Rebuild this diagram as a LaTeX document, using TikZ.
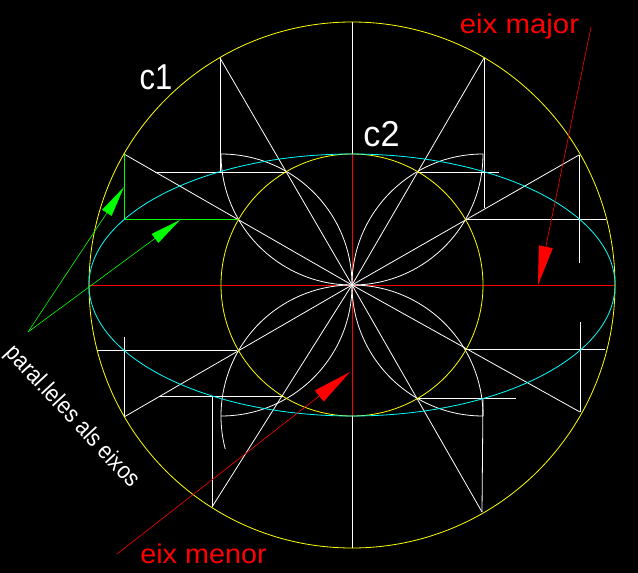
\documentclass[tikz,border=0pt]{standalone}
\usepackage{fontspec}
\setmainfont{Liberation Sans}
\usetikzlibrary{arrows.meta}
\definecolor{cyel}{RGB}{255,255,0}
\definecolor{ccyan}{RGB}{0,255,255}
\definecolor{cgreen}{RGB}{0,255,0}
\tikzstyle{wline} = [draw, white, line width=0.8pt]
\tikzstyle{yline} = [draw, cyel, line width=0.8pt]
\tikzstyle{eline} = [draw, ccyan, line width=0.8pt]
\tikzstyle{rline} = [draw, red, line width=0.7pt]
\tikzstyle{gline} = [draw, cgreen, line width=0.8pt]
\tikzstyle{garrow} = [draw, cgreen, line width=0.6pt, -{Triangle[length=31pt, width=11pt]}]
\tikzstyle{rarrow} = [draw, red, line width=0.6pt, -{Triangle[length=39pt, width=14pt]}]
\tikzstyle{wtext} = [white, inner sep=0pt, anchor=base, transform shape, font=\fontsize{36}{36}\selectfont]
\tikzstyle{rtext} = [red, inner sep=0pt, anchor=base, transform shape, font=\fontsize{27}{27}\selectfont]
\begin{document}
\begin{tikzpicture}[x=1pt, y=1pt]
	\fill [black] (0,-573) rectangle (638,0);
	\useasboundingbox (0,-573) rectangle (638,0);

	\coordinate (o) at (352,-285);
	\coordinate (left) at (89,-285);
	\coordinate (right) at (615,-285);
	\coordinate (top) at (352,-22);
	\coordinate (bot) at (352,-548);
	\coordinate (top2) at (352,-154);
	\coordinate (bot2) at (352,-416);

	% points on c1 and c2, by quadrant
	\coordinate (ul1) at (124,-154);
	\coordinate (ul2) at (220,-58);
	\coordinate (ui1) at (238,-219);
	\coordinate (ui2) at (286,-172);
	\coordinate (ur1) at (579,-155);
	\coordinate (ur2) at (484,-58);
	\coordinate (ri1) at (465,-219);
	\coordinate (ri2) at (418,-172);
	\coordinate (ll1) at (124,-417);
	\coordinate (ll2) at (212,-507);
	\coordinate (li1) at (237,-350);
	\coordinate (li2) at (283,-396);
	\coordinate (lr1) at (580,-412);
	\coordinate (lr2) at (482,-512);
	\coordinate (ni1) at (465,-349);
	\coordinate (ni2) at (417,-398);

	% axes
	\path [wline] (top) -- (top2);
	\path [wline] (bot2) -- (bot);
	\path [rline] (left) -- (right);
	\path [rline] (top2) -- (bot2);

	% arcs
	\path [wline] (221,-154) arc [start angle=180, end angle=270, radius=131pt];
	\path [wline] (o) arc [start angle=0, end angle=90, radius=131pt];
	\path [wline] (o) arc [start angle=270, end angle=360, radius=131pt];
	\path [wline] (o) arc [start angle=180, end angle=90, radius=131pt];
	\path [wline] (o) arc [start angle=90, end angle=0, radius=131pt];
	\path [wline] (o) arc [start angle=180, end angle=270, radius=131pt];
	\path [wline] (o) arc [start angle=90, end angle=194.6, radius=131pt];
	\path [wline] (o) arc [start angle=0, end angle=-90, radius=131pt];

	% radial lines
	\path [wline] (ul1) -- (o);
	\path [wline] (ul2) -- (o);
	\path [wline] (ur1) -- (o);
	\path [wline] (ur2) -- (o);
	\path [wline] (ll1) -- (o);
	\path [wline] (ll2) -- (o);
	\path [wline] (lr1) -- (o);
	\path [wline] (lr2) -- (o);

	% parallels to the axes
	\path [gline] (ul1) -- (124,-219) -- (ui1);
	\path [wline] (ul2) -- (220,-172);
	\path [wline] (155,-172) -- (ui2);
	\path [wline] (ur2) -- (484,-208);
	\path [wline] (ri2) -- (499,-172);
	\path [wline] (ur1) -- (579,-263);
	\path [wline] (ri1) -- (606,-219);
	\path [wline] (97,-350) -- (li1);
	\path [wline] (124,-337) -- (ll1);
	\path [wline] (159,-396) -- (li2);
	\path [wline] (212,-396) -- (ll2);
	\path [wline] (ni1) -- (605,-349);
	\path [wline] (580,-322) -- (lr1);
	\path [wline] (ni2) -- (516,-398);
	\path [wline] (483,-398) -- (lr2);

	% circles and ellipse
	\path [yline] (o) circle [radius=263pt];
	\path [yline] (o) circle [radius=131pt];
	\path [eline] (o) ellipse [x radius=263pt, y radius=131pt];

	% labels
	\node [wtext, xscale=0.86] (c1) at (156,-89) {c1};
	\node [wtext, xscale=0.95] (c2) at (381.5,-146) {c2};
	\node [rtext, xscale=1.09] (major) at (519.5,-33) {eix major};
	\node [rtext, xscale=1.065] (minor) at (203.5,-563) {eix menor};
	\node [white, inner sep=0pt, rotate=-47, xscale=0.88, transform shape, font=\fontsize{24}{24}\selectfont] (par) at (72,-417) {paral.leles als eixos};

	% arrows
	\coordinate (gs) at (28,-332);
	\coordinate (rs1) at (591,-27);
	\coordinate (rs2) at (117,-554);
	\path [garrow] (gs) -- (124,-187);
	\path [garrow] (gs) -- (180,-220);
	\path [rarrow] (rs1) -- (538,-285);
	\path [rarrow] (rs2) -- (350,-372);
\end{tikzpicture}
\end{document}
